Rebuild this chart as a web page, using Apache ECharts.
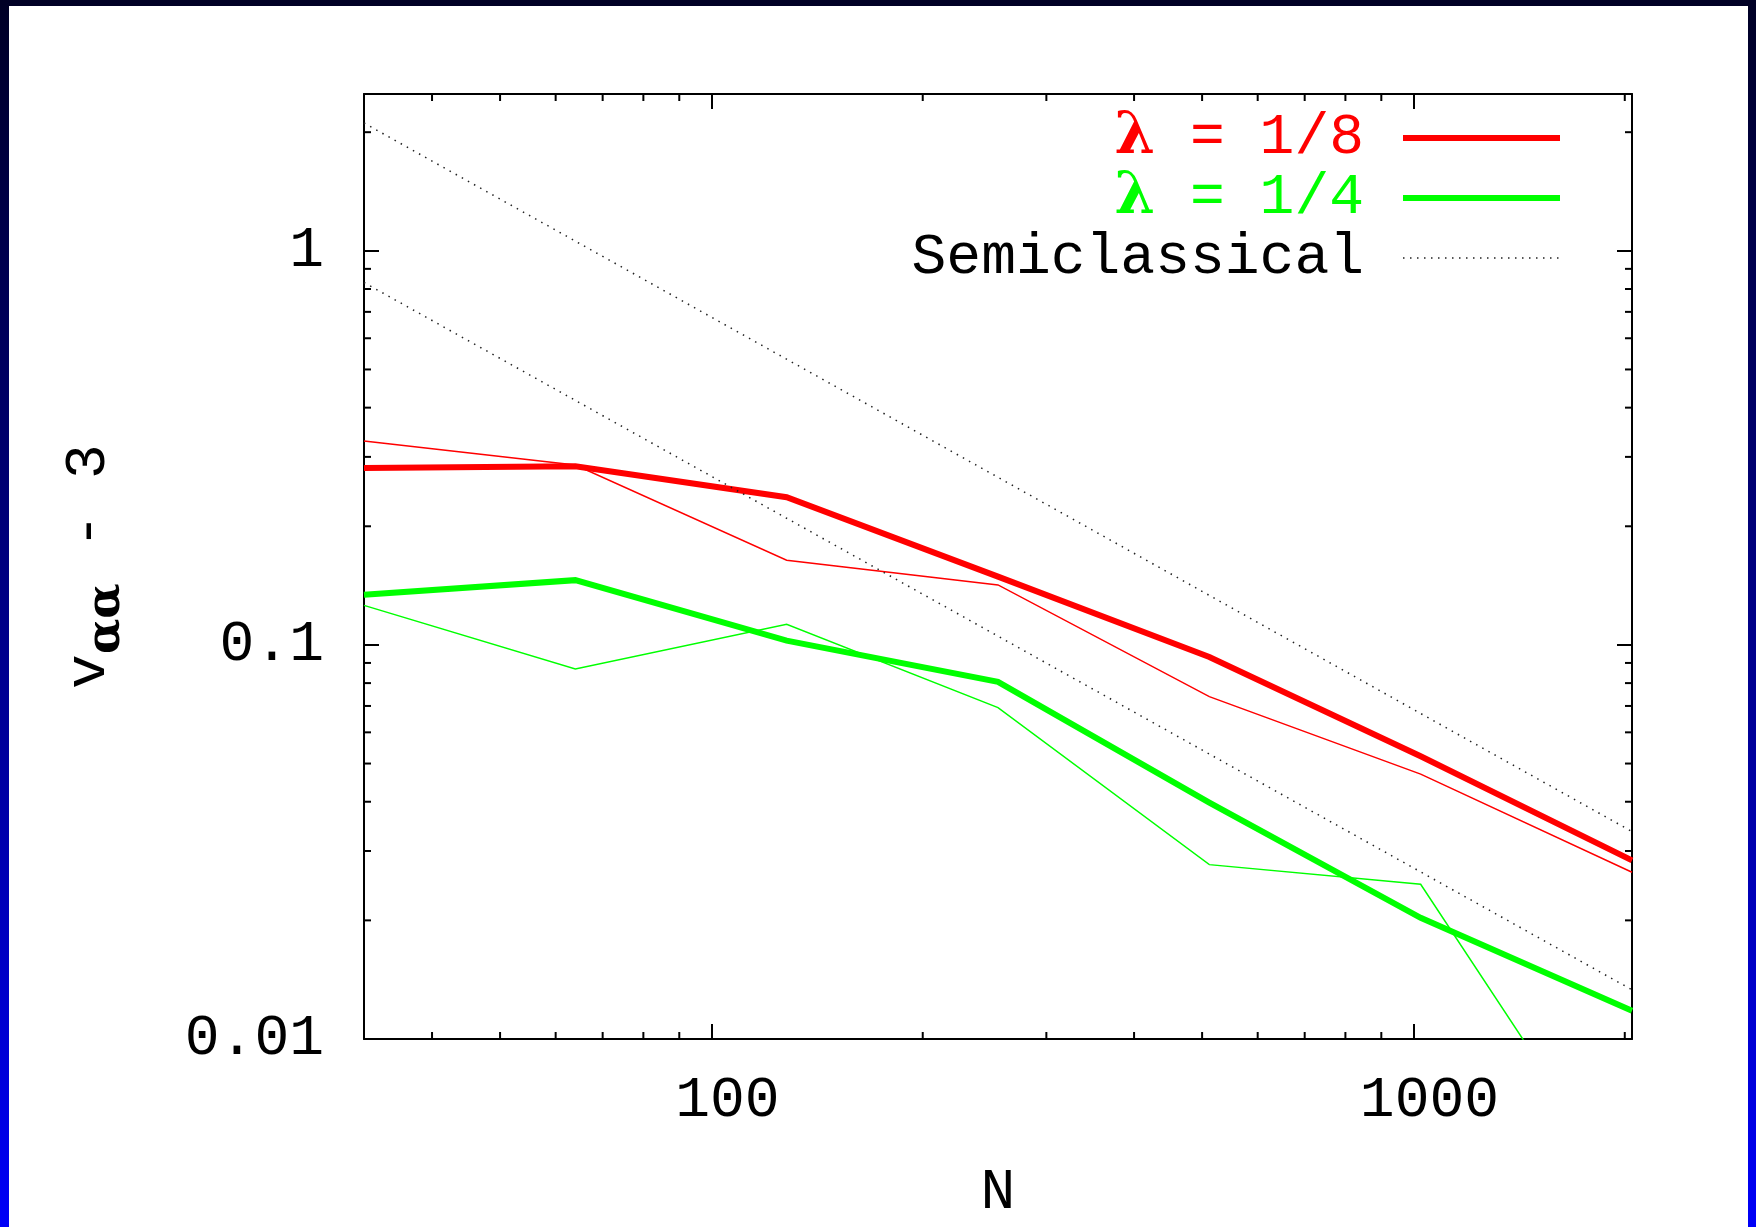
<!DOCTYPE html>
<html><head><meta charset="utf-8">
<script src="https://cdn.jsdelivr.net/npm/echarts@6/dist/echarts.min.js"></script>
<style>
html,body{margin:0;padding:0;width:1756px;height:1227px;overflow:hidden;}
body{background:linear-gradient(to bottom,#000025 0%,#000060 30%,#00009a 60%,#0000f8 100%);}
#panel{position:absolute;left:9px;top:6px;width:1739px;height:1221px;background:#fff;}
#chart{position:absolute;left:0;top:0;width:1756px;height:1227px;}
</style></head><body>
<div id="panel"></div><div id="chart"></div>
<script>
// ---- data ----
const N = [32, 64, 128, 256, 512, 1024, 2048];
const lam8Thick = [0.281, 0.284, 0.237, 0.149, 0.0932, 0.0522, 0.0284];
const lam8Thin  = [0.329, 0.286, 0.164, 0.142, 0.0739, 0.0470, 0.0265];
const lam4Thick = [0.134, 0.146, 0.1025, 0.0806, 0.0398, 0.0203, 0.0118];
const lam4Thin  = [0.126, 0.0869, 0.1128, 0.0693, 0.0277, 0.0247, 0.0038];
const semiN = [32, 2048];
const semiUpper = [2.11, 0.0336];
const semiLower = [0.831, 0.01333];

// ---- axes ----
const xMin = 32, xMax = 2048, yMin = 0.01, yMax = 2.5;
const xMajor = [100, 1000];
const xMajorLabels = ['100', '1000'];
const yMajor = [0.01, 0.1, 1];
const yMajorLabels = ['0.01', '0.1', '1'];
const xMinor = [40, 50, 60, 70, 80, 90, 200, 300, 400, 500, 600, 700, 800, 900, 2000];
const yMinor = [0.02, 0.03, 0.04, 0.05, 0.06, 0.07, 0.08, 0.09, 0.2, 0.3, 0.4, 0.5, 0.6, 0.7, 0.8, 0.9, 2];

const MONO = 'Liberation Mono';
const RED = '#ff0000', GREEN = '#00ff00';

function pairs(xs, ys) { return xs.map((x, i) => [x, ys[i]]); }
function labelFor(vals, labels) {
  return function (v) {
    const i = vals.findIndex(m => Math.abs(m - v) / m < 1e-6);
    return i >= 0 ? labels[i] : '';
  };
}

const axisLineStyle = { color: '#000', width: 2 };
function xAx(pos, main) {
  return {
    type: 'log', logBase: 10, min: xMin, max: xMax, position: pos, gridIndex: 0,
    axisLine: { show: true, onZero: false, lineStyle: axisLineStyle },
    axisTick: { show: true, inside: true, length: 15, lineStyle: { color: '#000', width: 2 }, customValues: xMajor },
    axisLabel: main ? { show: true, customValues: xMajor, formatter: labelFor(xMajor, xMajorLabels), margin: 33,
      fontFamily: MONO, fontSize: 58, color: '#000', padding: [0, 0, 0, 32] } : { show: false },
    splitLine: { show: false }, minorTick: { show: false }, minorSplitLine: { show: false },
    name: main ? 'N' : '', nameLocation: 'middle', nameGap: 125,
    nameTextStyle: { fontFamily: MONO, fontSize: 58, color: '#000' }
  };
}
function yAx(pos, main) {
  return {
    type: 'log', logBase: 10, min: yMin, max: yMax, position: pos, gridIndex: 0,
    axisLine: { show: true, onZero: false, lineStyle: axisLineStyle },
    axisTick: { show: true, inside: true, length: 15, lineStyle: { color: '#000', width: 2 }, customValues: yMajor },
    axisLabel: main ? { show: true, customValues: yMajor, formatter: labelFor(yMajor, yMajorLabels), margin: 40,
      fontFamily: MONO, fontSize: 58, color: '#000' } : { show: false },
    splitLine: { show: false }, minorTick: { show: false }, minorSplitLine: { show: false },
    name: main ? '{m|v}{a|αα}{m| - 3}' : '', nameLocation: 'middle', nameRotate: 90, nameGap: 246,
    nameTextStyle: {
      color: '#000',
      rich: {
        m: { fontFamily: MONO, fontSize: 58, lineHeight: 58, color: '#000' },
        a: { fontFamily: 'DejaVu Serif', fontWeight: 'bold', fontSize: 46, lineHeight: 46, color: '#000', padding: [36, 0, 0, 0] }
      }
    }
  };
}

function minorTicks(isX) {
  return function (params, api) {
    const cs = params.coordSys;
    const L = 7;
    const st = { stroke: '#000', lineWidth: 2 };
    let s1, s2;
    if (isX) {
      const px = api.coord([api.value(0), yMin])[0];
      s1 = { x1: px, y1: cs.y + cs.height, x2: px, y2: cs.y + cs.height - L };
      s2 = { x1: px, y1: cs.y, x2: px, y2: cs.y + L };
    } else {
      const py = api.coord([xMin, api.value(1)])[1];
      s1 = { x1: cs.x, y1: py, x2: cs.x + L, y2: py };
      s2 = { x1: cs.x + cs.width, y1: py, x2: cs.x + cs.width - L, y2: py };
    }
    return { type: 'group', children: [
      { type: 'line', shape: s1, style: st },
      { type: 'line', shape: s2, style: st }
    ] };
  };
}

function lineSeries(name, xs, ys, color, width, z, dash) {
  return {
    type: 'line', name: name, data: pairs(xs, ys), xAxisIndex: 0, yAxisIndex: 0,
    symbol: 'none', showSymbol: false, smooth: false, clip: true, z: z, silent: true,
    lineStyle: { color: color, width: width, type: dash || 'solid', cap: 'butt', join: 'miter' },
    itemStyle: { color: color },
    emphasis: { disabled: true }
  };
}

const chart = echarts.init(document.getElementById('chart'), null, { renderer: 'canvas' });
chart.setOption({
  backgroundColor: 'transparent',
  animation: false,
  grid: { left: 364, top: 94, width: 1268, height: 946, containLabel: false },
  xAxis: [xAx('bottom', true), xAx('top', false)],
  yAxis: [yAx('left', true), yAx('right', false)],
  legend: {
    data: [
      { name: 'λ = 1/8', textStyle: { color: RED } },
      { name: 'λ = 1/4', textStyle: { color: GREEN } },
      { name: 'Semiclassical', textStyle: { color: '#000' } }
    ],
    orient: 'vertical', align: 'right', right: 193, top: 108, padding: 0,
    itemWidth: 157, itemHeight: 14, itemGap: 0, selectedMode: false,
    itemStyle: { opacity: 0 },
    lineStyle: { width: 'inherit' },
    formatter: function (name) {
      if (name.indexOf('λ') === 0) return '{l|λ}' + name.slice(1);
      return name;
    },
    textStyle: {
      fontFamily: MONO, fontSize: 58, lineHeight: 60, padding: [0, 34, 0, 0],
      rich: { l: { fontFamily: 'DejaVu Serif', fontWeight: 'bold', fontSize: 58, lineHeight: 60 } }
    }
  },
  series: [
    lineSeries('λ = 1/8', N, lam8Thick, RED, 6, 3),
    lineSeries('λ = 1/4', N, lam4Thick, GREEN, 6, 3),
    lineSeries('λ = 1/8 (thin)', N, lam8Thin, RED, 1.5, 4),
    lineSeries('λ = 1/4 (thin)', N, lam4Thin, GREEN, 1.5, 4),
    lineSeries('Semiclassical', semiN, semiUpper, '#222', 1.5, 5, [1.5, 5.5]),
    lineSeries('Semiclassical', semiN, semiLower, '#222', 1.5, 5, [1.5, 5.5]),
    { type: 'custom', name: 'xminor', data: xMinor.map(v => [v, yMin]), renderItem: minorTicks(true), silent: true, z: 6, xAxisIndex: 0, yAxisIndex: 0 },
    { type: 'custom', name: 'yminor', data: yMinor.map(v => [xMin, v]), renderItem: minorTicks(false), silent: true, z: 6, xAxisIndex: 0, yAxisIndex: 0 }
  ]
});
</script>
</body></html>
